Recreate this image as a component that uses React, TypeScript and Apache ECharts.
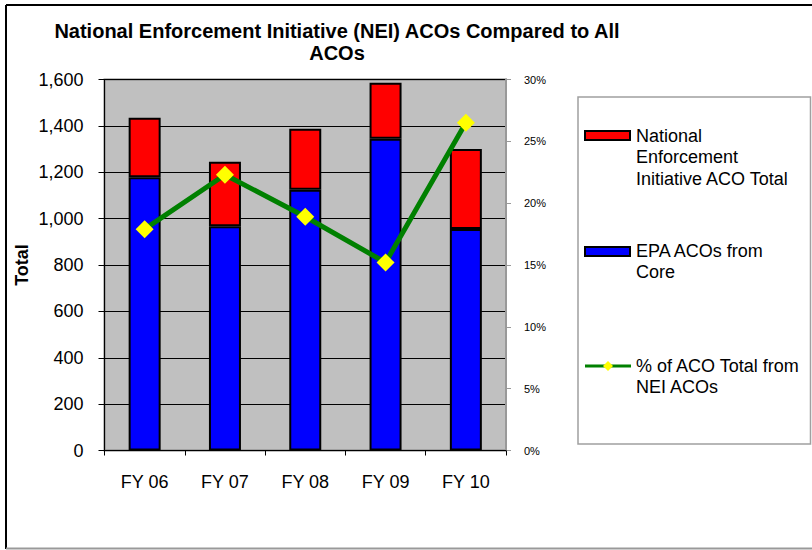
import React, { useEffect, useRef } from "react";
import * as echarts from "echarts";

const categories = ["FY 06", "FY 07", "FY 08", "FY 09", "FY 10"];
const coreACOs = [1178, 967, 1125, 1345, 955];
const neiACOs = [257, 278, 263, 241, 345];
const neiPercent = [17.9, 22.3, 18.9, 15.2, 26.5];
const leftTicks = { min: 0, max: 1600, interval: 200 };
const rightTicks = { min: 0, max: 30, interval: 5 };

const FONT = "'Liberation Sans', Arial, Helvetica, sans-serif";

export default function App() {
  const ref = useRef<HTMLDivElement>(null);
  useEffect(() => {
    if (!ref.current) return;
    const chart = echarts.init(ref.current, null, { renderer: "svg" });
    const option: any = {
      animation: false,
      backgroundColor: "#ffffff",
      textStyle: { fontFamily: FONT },
      title: {
        text: "National Enforcement Initiative (NEI) ACOs Compared to All\nACOs",
        left: 332,
        top: 15,
        textAlign: "center",
        textStyle: {
          fontFamily: FONT,
          fontSize: 20,
          fontWeight: "bold",
          color: "#000",
          lineHeight: 22,
        },
      },
      legend: { show: false },
      grid: {
        left: 104.5,
        right: 306,
        top: 79.5,
        bottom: 99.5,
        show: true,
        backgroundColor: "#c0c0c0",
        borderColor: "#808080",
        borderWidth: 2,
      },
      xAxis: {
        type: "category",
        data: categories,
        boundaryGap: true,
        axisLine: { show: true, lineStyle: { color: "#000", width: 1 } },
        axisTick: { show: true, length: 5, inside: false, lineStyle: { color: "#000" } },
        axisLabel: { fontFamily: FONT, fontSize: 18, color: "#000", margin: 22 },
        splitLine: { show: false },
      },
      yAxis: [
        {
          type: "value",
          min: leftTicks.min,
          max: leftTicks.max,
          interval: leftTicks.interval,
          name: "Total",
          nameLocation: "middle",
          nameGap: 74,
          nameRotate: 90,
          nameTextStyle: { fontFamily: FONT, fontSize: 18, fontWeight: "bold", color: "#000" },
          axisLine: { show: true, lineStyle: { color: "#000", width: 1 } },
          axisTick: { show: true, length: 6, lineStyle: { color: "#000" } },
          axisLabel: {
            fontFamily: FONT,
            fontSize: 18,
            color: "#000",
            margin: 21,
            formatter: (v: number) => v.toLocaleString("en-US"),
          },
          splitLine: { show: true, lineStyle: { color: "#000", width: 1 } },
        },
        {
          type: "value",
          position: "right",
          min: rightTicks.min,
          max: rightTicks.max,
          interval: rightTicks.interval,
          axisLine: { show: true, lineStyle: { color: "#999999", width: 2 } },
          axisTick: { show: true, length: 5, lineStyle: { color: "#999999" } },
          axisLabel: { fontFamily: FONT, fontSize: 11, color: "#000", margin: 18, formatter: "{value}%" },
          splitLine: { show: false },
        },
      ],
      series: [
        {
          name: "EPA ACOs from Core",
          type: "bar",
          stack: "total",
          data: coreACOs,
          barWidth: 32,
          itemStyle: { color: "#0000ff", borderColor: "#000", borderWidth: 2 },
          z: 2,
        },
        {
          name: "National Enforcement Initiative ACO Total",
          type: "bar",
          stack: "total",
          data: neiACOs,
          barWidth: 32,
          itemStyle: { color: "#ff0000", borderColor: "#000", borderWidth: 2 },
          z: 2,
        },
        {
          name: "% of ACO Total from NEI ACOs",
          type: "line",
          yAxisIndex: 1,
          data: neiPercent,
          symbol: "diamond",
          symbolSize: 18,
          showSymbol: true,
          lineStyle: { color: "#008000", width: 5 },
          itemStyle: { color: "#ffff00", borderWidth: 0 },
          z: 5,
        },
      ],
      graphic: [
        // outer chart border
        { type: "line", shape: { x1: 6, y1: 5, x2: 812, y2: 5 }, style: { stroke: "#000", lineWidth: 2 } },
        { type: "line", shape: { x1: 6, y1: 5, x2: 6, y2: 549 }, style: { stroke: "#000", lineWidth: 2 } },
        { type: "line", shape: { x1: 6, y1: 548.5, x2: 812, y2: 548.5 }, style: { stroke: "#999", lineWidth: 2 } },
        // legend box
        {
          type: "rect",
          shape: { x: 578, y: 97, width: 232.5, height: 347 },
          style: { fill: "#fff", stroke: "#a0a0a0", lineWidth: 1.5 },
        },
        {
          type: "rect",
          shape: { x: 585, y: 131, width: 45, height: 9 },
          style: { fill: "#ff0000", stroke: "#000", lineWidth: 2 },
        },
        {
          type: "text",
          x: 636,
          y: 125,
          style: {
            text: "National\nEnforcement\nInitiative ACO Total",
            fontFamily: FONT,
            fontSize: 18,
            lineHeight: 21.5,
            fill: "#000",
            verticalAlign: "top",
          },
        },
        {
          type: "rect",
          shape: { x: 585, y: 247, width: 45, height: 9 },
          style: { fill: "#0000ff", stroke: "#000", lineWidth: 2 },
        },
        {
          type: "text",
          x: 636,
          y: 240,
          style: {
            text: "EPA ACOs from\nCore",
            fontFamily: FONT,
            fontSize: 18,
            lineHeight: 21.5,
            fill: "#000",
            verticalAlign: "top",
          },
        },
        {
          type: "line",
          shape: { x1: 585, y1: 366, x2: 631, y2: 366 },
          style: { stroke: "#008000", lineWidth: 3 },
        },
        {
          type: "polygon",
          shape: { points: [[608, 361], [613, 366], [608, 371], [603, 366]] },
          style: { fill: "#ffff00" },
        },
        {
          type: "text",
          x: 636,
          y: 355,
          style: {
            text: "% of ACO Total from\nNEI ACOs",
            fontFamily: FONT,
            fontSize: 18,
            lineHeight: 21.5,
            fill: "#000",
            verticalAlign: "top",
          },
        },
      ],
    };
    chart.setOption(option);
    return () => chart.dispose();
  }, []);
  return (
    <div
      ref={ref}
      style={{ position: "absolute", left: 0, top: 0, width: 812, height: 550 }}
    />
  );
}
